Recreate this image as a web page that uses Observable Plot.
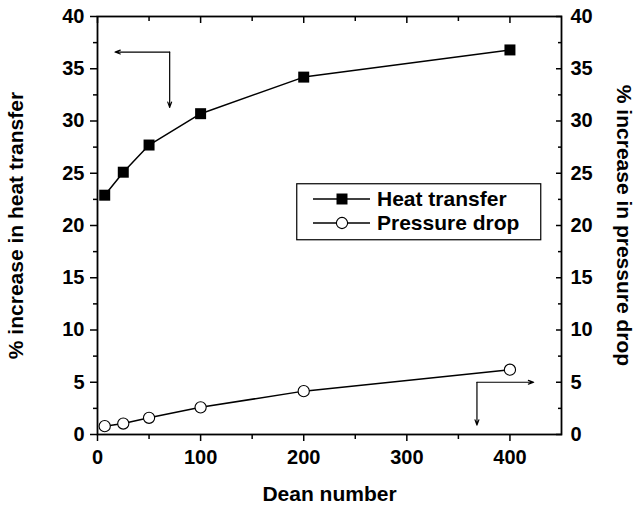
<!DOCTYPE html>
<html><head><meta charset="utf-8">
<script src="https://cdn.jsdelivr.net/npm/d3@7"></script>
<script src="https://cdn.jsdelivr.net/npm/@observablehq/plot@0.6"></script>
<style>
body{margin:0;background:#fff;}
#wrap{position:relative;width:635px;height:506px;font-family:"Liberation Sans",Arial,sans-serif;font-weight:bold;}
#legend{position:absolute;left:296px;top:183px;}
</style></head><body><div id="wrap"></div>
<script>
const deanNumber = [7, 25, 50, 100, 200, 400];
const heatTransfer = [22.9, 25.1, 27.7, 30.7, 34.2, 36.8];
const pressureDrop = [0.8, 1.05, 1.6, 2.6, 4.15, 6.2];
const xMajorTicks = [0, 100, 200, 300, 400];
const xMinorTicks = [50, 150, 250, 350];
const yMajorTicks = [0, 5, 10, 15, 20, 25, 30, 35, 40];
const yMinorTicks = [2.5, 7.5, 12.5, 17.5, 22.5, 27.5, 32.5, 37.5];
const seriesNames = ["Heat transfer", "Pressure drop"];
const axisTitles = {x: "Dean number", yLeft: "% increase in heat transfer", yRight: "% increase in pressure drop"};
const arrowSegments = [
  {x1: 70, y1: 36.6, x2: 17, y2: 36.6},
  {x1: 70, y1: 36.6, x2: 70, y2: 31.3},
  {x1: 368, y1: 5.0, x2: 423, y2: 5.0},
  {x1: 368, y1: 5.0, x2: 368, y2: 0.9}
];

const heat = deanNumber.map((x, i) => ({x, y: heatTransfer[i]}));
const press = deanNumber.map((x, i) => ({x, y: pressureDrop[i]}));
const blank = () => "";

const chart = Plot.plot({
  width: 635, height: 506,
  marginLeft: 97, marginRight: 74, marginTop: 16, marginBottom: 72,
  style: {fontFamily: "Liberation Sans, Arial, sans-serif", fontWeight: "bold", fontSize: "20px", color: "#000", background: "#fff", overflow: "visible"},
  x: {domain: [0, 450], axis: null},
  y: {domain: [0, 40], axis: null},
  marks: [
    Plot.axisX({ticks: xMajorTicks, tickSize: 7, tickPadding: 8, label: null, strokeWidth: 1.5, fontSize: 20}),
    Plot.axisX({ticks: xMinorTicks, tickSize: 5, tickFormat: blank, label: null, strokeWidth: 1.5}),
    Plot.axisX({anchor: "top", ticks: xMajorTicks, tickSize: -6, tickFormat: blank, label: null, strokeWidth: 1.5}),
    Plot.axisX({anchor: "top", ticks: xMinorTicks, tickSize: -4, tickFormat: blank, label: null, strokeWidth: 1.5}),
    Plot.axisY({ticks: yMajorTicks, tickSize: 7, tickPadding: 6, label: null, strokeWidth: 1.5, fontSize: 20}),
    Plot.axisY({ticks: yMinorTicks, tickSize: 4, tickFormat: blank, label: null, strokeWidth: 1.5}),
    Plot.axisY({anchor: "right", ticks: yMajorTicks, tickSize: 0, tickPadding: 9, label: null, fontSize: 20}),
    Plot.axisY({anchor: "right", ticks: yMajorTicks, tickSize: -6, tickFormat: blank, label: null, strokeWidth: 1.5}),
    Plot.axisY({anchor: "right", ticks: yMinorTicks, tickSize: -4, tickFormat: blank, label: null, strokeWidth: 1.5}),
    Plot.frame({stroke: "#000", strokeWidth: 1.8}),
    Plot.text([axisTitles.x], {frameAnchor: "bottom", dy: 60, lineAnchor: "middle", textAnchor: "middle", fontSize: 21, fontWeight: "bold", fill: "#000"}),
    Plot.text([axisTitles.yLeft], {frameAnchor: "left", dx: -81, rotate: -90, textAnchor: "middle", lineAnchor: "middle", fontSize: 21, fontWeight: "bold", fill: "#000"}),
    Plot.text([axisTitles.yRight], {frameAnchor: "right", dx: 62, rotate: 90, textAnchor: "middle", lineAnchor: "middle", fontSize: 21, fontWeight: "bold", fill: "#000"}),
    Plot.arrow(arrowSegments, {x1: "x1", y1: "y1", x2: "x2", y2: "y2", stroke: "#000", strokeWidth: 1.2, headLength: 7, headAngle: 40}),
    Plot.line(heat, {x: "x", y: "y", stroke: "#000", strokeWidth: 1.5}),
    Plot.line(press, {x: "x", y: "y", stroke: "#000", strokeWidth: 1.5}),
    Plot.dot(heat, {x: "x", y: "y", symbol: "square", r: 6.2, fill: "#000", stroke: "none"}),
    Plot.dot(press, {x: "x", y: "y", symbol: "circle", r: 5.6, fill: "#fff", stroke: "#000", strokeWidth: 1.1})
  ]
});
document.getElementById("wrap").appendChild(chart);

// legend overlay (inside plot area, as in the reference)
const lg = d3.create("svg").attr("id", "legend").attr("width", 246).attr("height", 58)
  .style("font-family", "Liberation Sans, Arial, sans-serif").style("font-weight", "bold");
lg.append("rect").attr("x", 0.75).attr("y", 0.75).attr("width", 244).attr("height", 56).attr("fill", "#fff").attr("stroke", "#000").attr("stroke-width", 1.2);
const rowY = [16, 40];
seriesNames.forEach((name, i) => {
  const g = lg.append("g").attr("transform", `translate(0,${rowY[i]})`);
  g.append("line").attr("x1", 17).attr("x2", 74).attr("y1", 0).attr("y2", 0).attr("stroke", "#000").attr("stroke-width", 1.5);
  if (i === 0) g.append("path").attr("d", d3.symbol(d3.symbolSquare, Math.PI * 6.2 * 6.2)()).attr("transform", "translate(46,0)").attr("fill", "#000");
  else g.append("circle").attr("cx", 46).attr("cy", 0).attr("r", 5.6).attr("fill", "#fff").attr("stroke", "#000").attr("stroke-width", 1.1);
  g.append("text").attr("x", 81).attr("y", 0).attr("dy", "0.35em").attr("font-size", 21).text(name);
});
document.getElementById("wrap").appendChild(lg.node());
</script></body></html>
